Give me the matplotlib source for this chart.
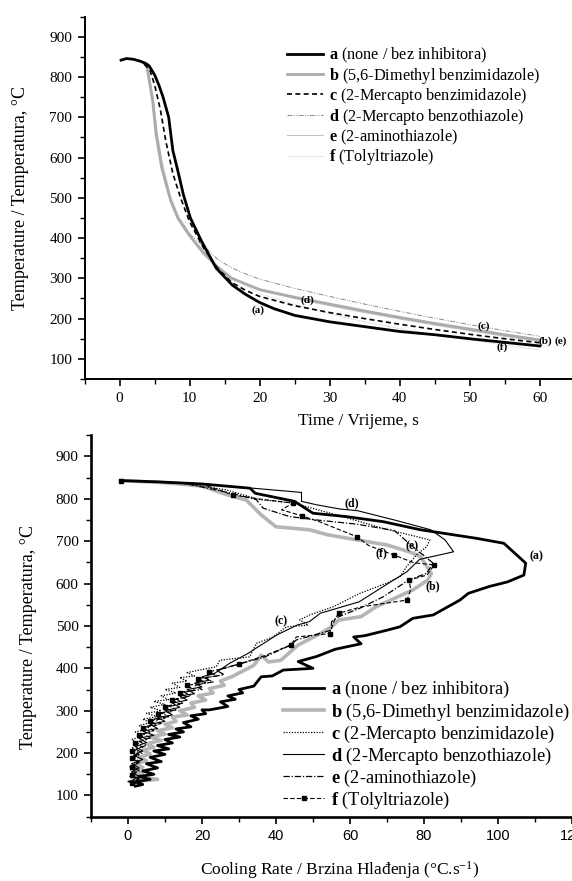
import numpy as np
import matplotlib
matplotlib.use('Agg')
from matplotlib import pyplot as plt
from matplotlib.ticker import MultipleLocator

plt.rcParams['font.family'] = ['Liberation Serif', 'DejaVu Serif']
plt.rcParams['mathtext.fontset'] = 'custom'
plt.rcParams['mathtext.rm'] = 'Liberation Serif'
plt.rcParams['mathtext.bf'] = 'Liberation Serif:bold'
plt.rcParams['mathtext.it'] = 'Liberation Serif:italic'

labels = [r'$\mathbf{a}$ (none / bez inhibitora)',
          r'$\mathbf{b}$ (5,6-Dimethyl benzimidazole)',
          r'$\mathbf{c}$ (2-Mercapto benzimidazole)',
          r'$\mathbf{d}$ (2-Mercapto benzothiazole)',
          r'$\mathbf{e}$ (2-aminothiazole)',
          r'$\mathbf{f}$ (Tolyltriazole)']

# ---------------- cooling curves (time, temperature)
t_a = [0.2, 1, 2, 3, 3.8, 4.2, 5, 5.6, 6.2, 7, 7.6, 8.2, 9.1, 10.1, 11.7, 13.8, 16.1, 18, 20, 22, 25, 30, 35, 40, 45, 50, 55, 60]
T_a = [842, 846, 844, 839, 833, 828, 805, 780, 750, 700, 617, 575, 508, 450, 392, 325, 283, 260, 240, 225, 208, 192, 180, 168, 160, 150, 141, 132]

t_b = [3.5, 3.9, 4.7, 5.2, 6.0, 7.3, 8.3, 9.9, 12, 14, 16, 20, 25, 30, 35, 40, 45, 50, 55, 60]
T_b = [835, 825, 742, 658, 575, 492, 450, 408, 362, 328, 300, 272, 253, 236, 219, 203, 188, 174, 160, 147]

t_c = [3.5, 4.3, 5, 5.8, 6.6, 7.6, 8.7, 10, 12, 14, 16, 18, 20, 25, 30, 35, 40, 45, 50, 55, 60]
T_c = [832, 818, 780, 720, 640, 560, 500, 440, 375, 325, 290, 270, 255, 232, 215, 200, 186, 173, 161, 150, 140]

t_d = [3.5, 4.0, 4.8, 5.3, 6.1, 7.3, 8.4, 10.3, 12.5, 14, 16, 18, 20, 25, 30, 35, 40, 45, 50, 55, 60]
T_d = [834, 820, 742, 660, 575, 495, 450, 405, 372, 347, 326, 311, 298, 275, 255, 236, 218, 201, 185, 170, 156]

t_e = [3.5, 4.0, 4.8, 5.3, 6.1, 7.3, 8.4, 10.3, 12.5, 14, 16, 20, 25, 30, 35, 40, 45, 50, 55, 60]
T_e = [834, 820, 745, 665, 580, 498, 452, 400, 358, 328, 302, 270, 250, 232, 215, 199, 184, 170, 156, 143]

t_f = [3.5, 4.0, 4.8, 5.3, 6.1, 7.3, 8.4, 10.3, 12.5, 14, 16, 20, 25, 30, 35, 40, 45, 50, 55, 60]
T_f = [834, 822, 750, 672, 590, 505, 455, 402, 360, 330, 302, 262, 235, 212, 192, 175, 160, 147, 134, 122]

# ---------------- cooling rate curves (rate, temperature)
r_a = [-2, 8, 20, 33, 34.4, 45, 50, 59, 69, 79, 94, 101.6, 107.5, 107, 102.6, 97.6, 92, 89.7, 82.5, 77, 73.5, 70, 64, 61, 63, 56, 51, 46, 50, 42, 39, 36,
       34, 30, 31, 27, 29, 25, 27, 22, 20, 21, 17, 19, 15, 17, 13, 15, 11, 14, 10, 12, 8, 11, 7, 10, 6, 9, 5, 8, 4, 7, 3, 6, 2, 4, 2]
y_a = [843, 840, 835, 825, 813, 794, 766, 758, 746, 727, 707, 695, 648, 620, 604, 593, 577, 561, 526, 518, 498, 490, 477, 474, 458, 445, 428, 416, 400, 396, 382, 380,
       358, 350, 342, 335, 327, 321, 310, 302, 302, 293, 288, 280, 272, 262, 257, 250, 244, 238, 232, 224, 218, 210, 205, 197, 190, 180, 175, 165, 158, 150, 145, 138, 132, 126, 122]

r_b = [-2, 10, 20, 27, 32, 36, 40, 49, 54, 62, 70, 76, 79, 82, 81, 77, 73, 67, 63, 57, 55, 52, 46, 41.3, 38, 36, 34, 28,
       25, 26, 22, 23, 19, 21, 17, 18, 14, 16, 12, 13, 10, 12, 8, 10, 6, 9, 5, 7, 4, 6, 3, 5, 2, 4, 1, 4, 1, 8, 2]
y_b = [843, 838, 830, 809, 797, 762, 734, 727, 715, 703, 691, 675, 664, 624, 608, 585, 569, 545, 522, 514, 498, 482, 455, 419, 415, 431, 407, 380,
       370, 360, 352, 342, 335, 325, 318, 308, 300, 290, 285, 275, 268, 260, 253, 245, 238, 230, 222, 214, 207, 198, 190, 182, 175, 166, 160, 152, 146, 138, 134]

r_c = [-2, 15, 26.6, 35.6, 44.6, 57.2, 69, 81.6, 80.7, 78, 75.3, 73.5, 69.9, 62.7, 55.4, 49.1, 46.4, 48.7, 42.8, 39.2, 34.7, 32.9, 24.8, 23.9, 19.4,
       16, 18, 14, 16, 12, 14, 10, 13, 9, 11, 7, 10, 6, 9, 5, 8, 4, 6, 3, 5, 2, 4, 1, 3, 1, 3, 1, 3, 0.5, 2, 0.5, 2, 1]
y_c = [843, 836, 821, 798, 790, 760, 730, 703, 687, 668, 640, 616, 601, 577, 545, 526, 514, 502, 498, 474, 459, 427, 419, 404, 396,
       390, 382, 378, 370, 365, 355, 350, 342, 335, 326, 322, 315, 308, 300, 294, 286, 280, 272, 265, 256, 250, 240, 232, 222, 212, 200, 190, 178, 168, 155, 145, 135, 128]

r_d = [-2, 15, 33.8, 46.9, 46.9, 50.9, 57.2, 62, 72, 81.8, 85.7, 88, 78.8, 75.4, 69, 62.5, 52, 49, 45.7, 40.3, 35.4, 32.4, 27.5, 23.4,
       20, 22, 18, 20, 16, 18, 14, 16, 12, 14, 10, 12, 8, 10, 6, 8, 4, 7, 3, 5, 2, 4, 1.5, 4, 1, 3, 1, 3, 1, 2]
y_d = [843, 838, 825, 815, 794, 786, 776, 772, 750, 727, 703, 675, 657, 628, 593, 557, 530, 510, 502, 479, 452, 435, 412, 388,
       380, 372, 365, 356, 350, 340, 335, 325, 318, 308, 300, 290, 284, 275, 268, 258, 252, 242, 235, 225, 215, 205, 195, 185, 175, 165, 155, 145, 135, 128]

r_e = [-2, 15, 27.5, 34.7, 36.5, 43.7, 51, 62, 72, 77, 82.5, 80.7, 76, 69, 62.7, 57, 55, 55, 45.5, 44, 37, 27.5,
       24, 26, 21, 23, 18, 20, 15, 17, 13, 15, 11, 13, 9, 11, 7, 9, 5, 7, 4, 6, 3, 5, 2, 4, 1.5, 3, 1, 3, 1, 3, 0, 2]
y_e = [843, 837, 814, 798, 778, 758, 750, 740, 725, 687, 648, 624, 609, 569, 542, 522, 510, 490, 467, 455, 427, 404,
       395, 385, 378, 368, 360, 350, 345, 335, 328, 318, 312, 302, 295, 286, 280, 270, 263, 253, 246, 236, 228, 218, 210, 200, 192, 180, 170, 160, 150, 140, 133, 127]

r_f = [-2, 20, 28.4, 35, 44.6, 41.5, 47, 52, 62, 65, 72, 77.3, 82.8, 80.8, 76, 76.4, 75.4, 63, 57, 56, 54.5, 45.5, 44, 37, 30, 26,
       22, 24, 19, 21, 16, 18, 14, 16, 12, 14, 10, 12, 8, 10, 6, 8, 4, 6, 3, 5, 2, 4, 1, 3, 1, 3, 1, 3, 1, 3, 1, 2]
y_f = [843, 835, 809, 800, 790, 774, 760, 745, 710, 690, 667, 649, 644, 620, 608, 585, 561, 545, 530, 518, 482, 474, 455, 430, 410, 400,
       392, 382, 376, 366, 360, 348, 342, 332, 325, 315, 308, 298, 292, 282, 276, 266, 260, 250, 242, 232, 224, 214, 206, 196, 188, 178, 168, 158, 148, 138, 130, 125]

fig = plt.figure(figsize=(5.72, 8.81), dpi=100)
ax1 = fig.add_axes([0.148, 0.5698, 0.852, 0.4113])
ax2 = fig.add_axes([0.159, 0.073, 0.841, 0.433])

# ---------------- top panel
ax1.plot(t_f, T_f, color='#e0e0e0', lw=0.6, label=labels[5])
ax1.plot(t_e, T_e, color='#c4c4c4', lw=0.8, label=labels[4])
ax1.plot(t_d, T_d, color='#8a8a8a', lw=0.7, ls=(0, (5, 1.5, 1, 1.5, 1, 1.5)), label=labels[3])
ax1.plot(t_b, T_b, color='#ababab', lw=2.0, label=labels[1])
ax1.plot(t_c, T_c, color='black', lw=1.2, ls=(0, (3, 2)), label=labels[2])
ax1.plot(t_a, T_a, color='black', lw=2.0, label=labels[0])

h, l = ax1.get_legend_handles_labels()
order = [5, 3, 4, 2, 1, 0]
ax1.legend([h[i] for i in order], [l[i] for i in order], loc='upper left',
           bbox_to_anchor=(0.415, 0.92), frameon=False, fontsize=11.7,
           handlelength=2.2, handletextpad=0.4, labelspacing=0.04,
           borderpad=0, borderaxespad=0)

for txt, x, y in [('(a)', 19.8, 222), ('(d)', 26.8, 246), ('(c)', 52, 180),
                  ('(b)', 60.8, 145), ('(e)', 63.0, 143), ('(f)', 54.6, 129)]:
    ax1.text(x, y, txt, fontsize=8, fontweight='bold', ha='center', va='center')

ax1.set_xlim(-5, 64.6)
ax1.set_ylim(50, 950)
ax1.xaxis.set_minor_locator(MultipleLocator(5))
ax1.yaxis.set_minor_locator(MultipleLocator(50))
ax1.set_xticks(range(0, 61, 10))
ax1.set_yticks(range(100, 901, 100))
ax1.set_xlabel('Time / Vrijeme, s', fontsize=12.5)
ax1.set_ylabel('Temperature / Temperatura, \u00b0C', fontsize=13)
ax1.xaxis.set_label_coords(0.561, -0.095)
ax1.yaxis.set_label_coords(-0.114, 0.5)

# ---------------- bottom panel
ax2.plot(r_b, y_b, color='#b5b5b5', lw=2.6, label=labels[1])
ax2.plot(r_c, y_c, color='black', lw=0.9, ls=(0, (1, 1.2)), label=labels[2])
ax2.plot(r_d, y_d, color='black', lw=0.8, label=labels[3])
ax2.plot(r_e, y_e, color='black', lw=0.9, ls=(0, (5, 1.5, 1, 1.5)), label=labels[4])
ax2.plot(r_f, y_f, color='black', lw=0.8, ls=(0, (4, 2)), marker='s', ms=2.2,
         markevery=2, label=labels[5])
ax2.plot(r_a, y_a, color='black', lw=2.0, label=labels[0])

h, l = ax2.get_legend_handles_labels()
order = [5, 0, 1, 2, 3, 4]
ax2.legend([h[i] for i in order], [l[i] for i in order], loc='upper left',
           bbox_to_anchor=(0.40, 0.36), frameon=False, fontsize=13.2,
           handlelength=2.2, handletextpad=0.4, labelspacing=0.05,
           borderpad=0, borderaxespad=0)

for txt, x, y in [('(d)', 60.6, 790), ('(e)', 76.9, 687), ('(f)', 68.5, 671),
                  ('(a)', 110.5, 664), ('(b)', 82.3, 593), ('(c)', 41.3, 510)]:
    ax2.text(x, y, txt, fontsize=8.5, fontweight='bold', ha='center', va='center')

ax2.set_xlim(-10, 120)
ax2.set_ylim(50, 950)
ax2.set_xticks(range(0, 121, 20))
ax2.xaxis.set_minor_locator(MultipleLocator(10))
ax2.set_yticks(range(100, 901, 100))
ax2.yaxis.set_minor_locator(MultipleLocator(50))
for lab in ax2.get_xticklabels():
    lab.set_fontfamily(['Liberation Sans', 'DejaVu Sans'])
ax2.set_xlabel(r'Cooling Rate / Brzina Hlađenja ($\degree$C.s$^{-1}$)', fontsize=12.5)
ax2.set_ylabel('Temperature / Temperatura, \u00b0C', fontsize=13)
ax2.xaxis.set_label_coords(0.516, -0.112)
ax2.yaxis.set_label_coords(-0.113, 0.47)

for ax, lw in [(ax1, 1.4), (ax2, 1.9)]:
    ax.spines['top'].set_visible(False)
    ax.spines['right'].set_visible(False)
    ax.spines['left'].set_linewidth(lw)
    ax.spines['bottom'].set_linewidth(lw)
    ax.tick_params(which='major', direction='out', length=5, width=1.2, labelsize=11, pad=4)
    ax.tick_params(which='minor', direction='out', length=3.5, width=1.0)

ax2.tick_params(axis='x', labelsize=10.5)

plt.savefig('out.png', dpi=100)
